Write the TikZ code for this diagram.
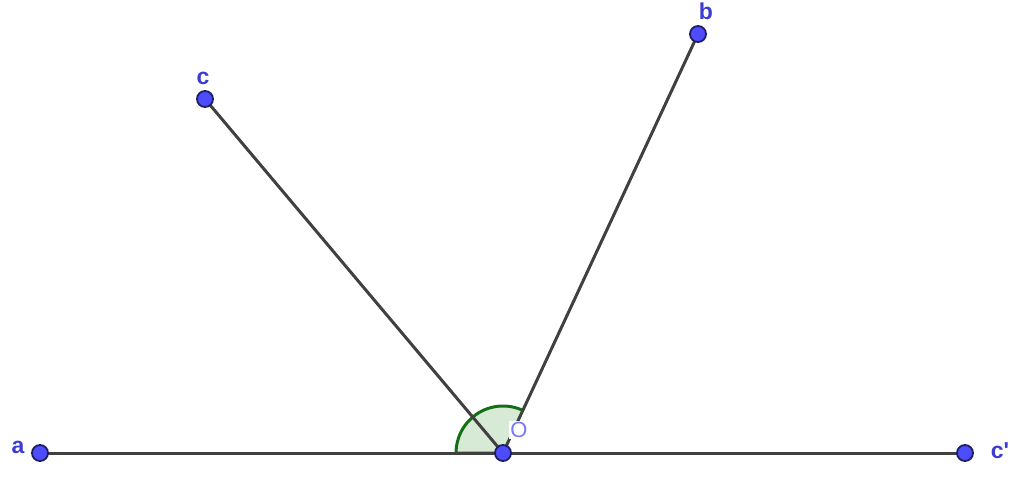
\documentclass[tikz,border=0pt]{standalone}
\usepackage{fontspec}
\setmainfont{Liberation Sans}
\definecolor{ptblue}{RGB}{77,77,255}
\definecolor{ptedge}{RGB}{30,30,100}
\definecolor{seg}{RGB}{64,64,64}
\definecolor{angfill}{RGB}{214,234,214}
\definecolor{angline}{RGB}{20,110,20}
\definecolor{lblblue}{RGB}{60,60,210}
\definecolor{olbl}{RGB}{120,120,255}
\begin{document}
\begin{tikzpicture}[x=0.5pt,y=-0.5pt,
  pt/.style={circle,fill=ptblue,draw=ptedge,line width=0.9pt,minimum size=8pt,inner sep=0pt},
  lbl/.style={text=lblblue,font=\fontsize{11.5}{12}\selectfont\bfseries,inner sep=0pt},
  segline/.style={draw=seg,line width=1.5pt}]
\useasboundingbox (0,0) rectangle (1024,478);
\coordinate (O) at (503,453);
\coordinate (A) at (40,453);
\coordinate (Cp) at (965,453);
\coordinate (C) at (205,99);
\coordinate (B) at (698,34);
% angle sector (y axis points down, so image angles are negated)
\fill[angfill] (O) -- ++(180:47) arc[start angle=180,end angle=295,radius=47] -- cycle;
\draw[angline,line width=1.5pt] (O) ++(295:47) arc[start angle=295,end angle=180,radius=47] -- (O);
% segments
\draw[segline] (A) -- (Cp);
\draw[segline] (O) -- (C);
\draw[segline] (O) -- (B);
% points
\node[pt] (a) at (A) {};
\node[pt] (o) at (O) {};
\node[pt] (cp) at (Cp) {};
\node[pt] (c) at (C) {};
\node[pt] (b) at (B) {};
% labels
\node[lbl] (la) at (18,447) {a};
\node[lbl] (lc) at (203,78) {c};
\node[lbl] (lb) at (706,11) {b};
\node[lbl] (lcp) at (1000,451) {c\textquotesingle};
\node[text=olbl,fill=white,inner sep=0.5pt,font=\fontsize{11}{12}\selectfont] (lo) at (519,430) {O};
\end{tikzpicture}
\end{document}
